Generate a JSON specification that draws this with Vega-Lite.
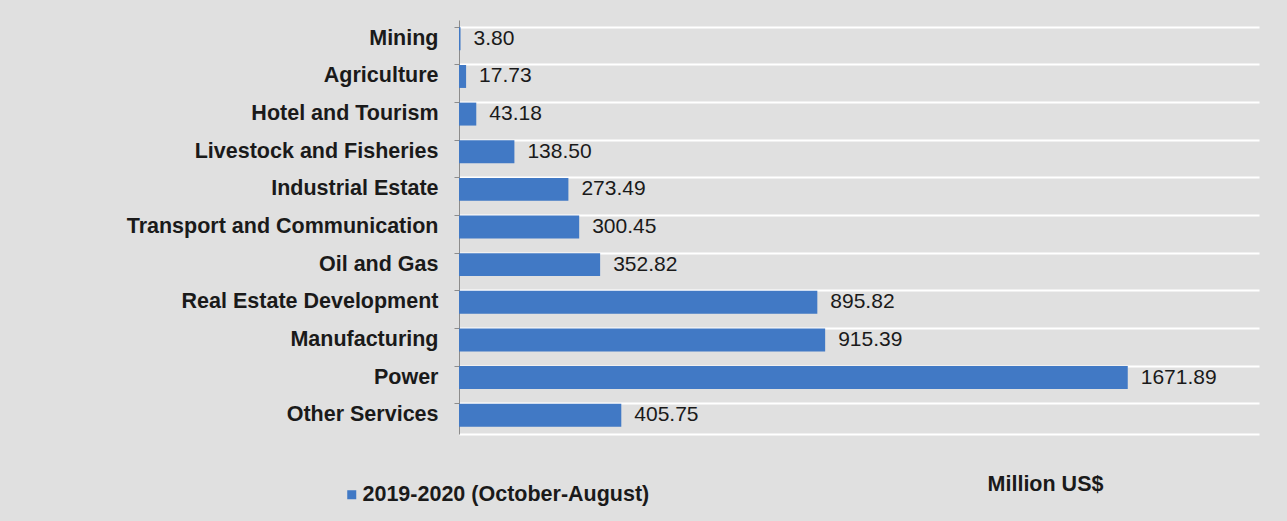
{
  "$schema": "https://vega.github.io/schema/vega-lite/v6.json",
  "width": 800,
  "height": 414,
  "autosize": {"type": "none"},
  "padding": {"left": 459, "top": 20, "right": 28, "bottom": 87},
  "background": "#e0e0e0",
  "config": {
    "view": {"stroke": null},
    "font": "Liberation Sans"
  },
  "data": {
    "values": [
      {"sector": "Mining", "value": 3.80, "series": "2019-2020 (October-August)"},
      {"sector": "Agriculture", "value": 17.73, "series": "2019-2020 (October-August)"},
      {"sector": "Hotel and Tourism", "value": 43.18, "series": "2019-2020 (October-August)"},
      {"sector": "Livestock and Fisheries", "value": 138.50, "series": "2019-2020 (October-August)"},
      {"sector": "Industrial Estate", "value": 273.49, "series": "2019-2020 (October-August)"},
      {"sector": "Transport and Communication", "value": 300.45, "series": "2019-2020 (October-August)"},
      {"sector": "Oil and Gas", "value": 352.82, "series": "2019-2020 (October-August)"},
      {"sector": "Real Estate Development", "value": 895.82, "series": "2019-2020 (October-August)"},
      {"sector": "Manufacturing", "value": 915.39, "series": "2019-2020 (October-August)"},
      {"sector": "Power", "value": 1671.89, "series": "2019-2020 (October-August)"},
      {"sector": "Other Services", "value": 405.75, "series": "2019-2020 (October-August)"}
    ]
  },
  "encoding": {
    "y": {
      "field": "sector",
      "type": "nominal",
      "sort": null,
      "scale": {"paddingInner": 0.39, "paddingOuter": 0.195},
      "axis": {
        "title": null,
        "bandPosition": 0,
        "grid": true,
        "gridColor": "#ffffff",
        "gridWidth": 2,
        "domainColor": "#8c8c8c",
        "domainWidth": 1,
        "tickColor": "#8c8c8c",
        "tickSize": 5,
        "labelPadding": 16,
        "labelFontSize": 21.5,
        "labelFontWeight": "bold",
        "labelColor": "#1a1a1a",
        "labelBound": false,
        "labelLimit": 450
      }
    },
    "x": {
      "field": "value",
      "type": "quantitative",
      "scale": {"domain": [0, 2000], "nice": false},
      "axis": {
        "title": "Million US$",
        "titleX": 586,
        "titleY": 50,
        "titleAlign": "center",
        "titleBaseline": "middle",
        "titleFontSize": 21.5,
        "titleFontWeight": "bold",
        "titleColor": "#1a1a1a",
        "labels": false,
        "ticks": false,
        "grid": false,
        "domain": true,
        "domainColor": "#ffffff",
        "domainWidth": 2
      }
    }
  },
  "layer": [
    {
      "mark": {"type": "bar", "color": "#4179c5"},
      "encoding": {
        "color": {
          "field": "series",
          "type": "nominal",
          "scale": {"range": ["#4179c5"]},
          "legend": {
            "title": null,
            "orient": "none",
            "legendX": -118,
            "legendY": 464,
            "padding": 0,
            "symbolType": "square",
            "symbolSize": 81,
            "symbolStrokeWidth": 0,
            "labelFontSize": 21.5,
            "labelFontWeight": "bold",
            "labelColor": "#1a1a1a",
            "labelOffset": 0,
            "labelLimit": 400
          }
        }
      }
    },
    {
      "mark": {"type": "text", "align": "left", "baseline": "middle", "dx": 13, "fontSize": 21, "color": "#1a1a1a"},
      "encoding": {
        "text": {"field": "value", "type": "quantitative", "format": ".2f"}
      }
    }
  ]
}
